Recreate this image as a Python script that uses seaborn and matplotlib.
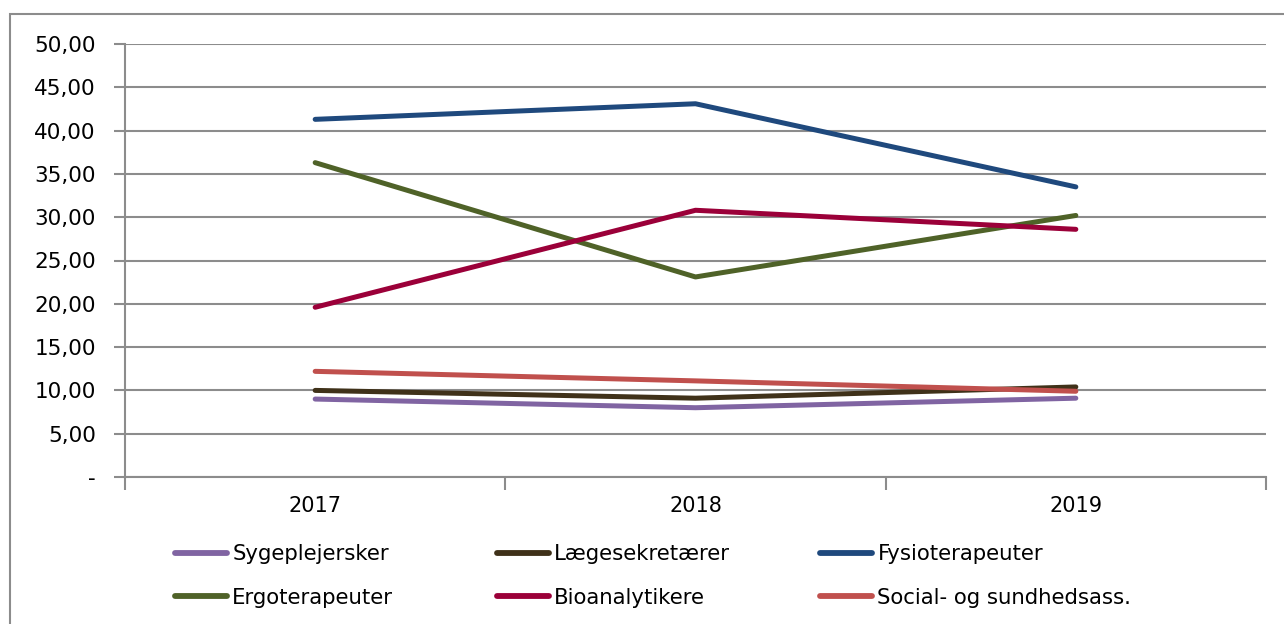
import pandas as pd
import matplotlib.pyplot as plt
import seaborn as sns
from matplotlib.ticker import FuncFormatter, FixedLocator
from matplotlib.patches import Rectangle

years = ["2017", "2018", "2019"]
sygeplejersker = [9.0, 8.0, 9.1]
laegesekretaerer = [10.0, 9.1, 10.4]
fysioterapeuter = [41.3, 43.1, 33.5]
ergoterapeuter = [36.3, 23.1, 30.2]
bioanalytikere = [19.6, 30.8, 28.6]
social_sundhed = [12.2, 11.1, 9.9]

series = {
    "Sygeplejersker": sygeplejersker,
    "Lægesekretærer": laegesekretaerer,
    "Fysioterapeuter": fysioterapeuter,
    "Ergoterapeuter": ergoterapeuter,
    "Bioanalytikere": bioanalytikere,
    "Social- og sundhedsass.": social_sundhed,
}
colors = ["#8064A2", "#3F3119", "#1F497D", "#4F6228", "#9B0039", "#C0504D"]

rows = []
for name, vals in series.items():
    for y, v in zip(years, vals):
        rows.append({"year": y, "value": v, "group": name})
data = pd.DataFrame(rows)

sns.set_style("white")
plt.rcParams['font.family'] = ['DejaVu Sans']
plt.rcParams['text.color'] = 'black'
plt.rcParams['xtick.color'] = 'black'
plt.rcParams['ytick.color'] = 'black'

fig = plt.figure(figsize=(12.84, 6.24), dpi=100)
ax = fig.add_axes([125 / 1284, 1 - 477 / 624, (1266 - 125) / 1284, (477 - 44) / 624])

sns.lineplot(data=data, x="year", y="value", hue="group", palette=colors,
             linewidth=3.6, ax=ax, legend=True)
for ln in ax.get_lines():
    ln.set_solid_capstyle("round")

ax.set_xlim(-0.5, 2.5)
ax.set_ylim(0, 50)
ax.set_yticks([i * 5 for i in range(11)])
ax.yaxis.set_major_formatter(FuncFormatter(
    lambda v, p: "-" if v == 0 else f"{v:.2f}".replace(".", ",")))
ax.grid(axis="y", color="#8C8C8C", linewidth=1.5)
ax.set_axisbelow(True)
ax.set_xlabel("")
ax.set_ylabel("")

ax.xaxis.set_minor_locator(FixedLocator([-0.5, 0.5, 1.5, 2.5]))
ax.tick_params(axis="x", which="major", bottom=True, length=0, pad=14,
               labelsize=15, labelcolor="black")
ax.tick_params(axis="x", which="minor", bottom=True, length=9, width=1.5,
               color="#8C8C8C")
ax.tick_params(axis="y", left=True, length=8, width=1.5, color="#8C8C8C",
               pad=13, labelsize=15.5, labelcolor="black")

for side in ["top", "right"]:
    ax.spines[side].set_visible(False)
for side in ["left", "bottom"]:
    ax.spines[side].set_color("#8C8C8C")
    ax.spines[side].set_linewidth(1.5)

handles, labels = ax.get_legend_handles_labels()
ax.get_legend().remove()
for h in handles:
    h.set_linewidth(4.2)
    h.set_solid_capstyle("round")

# one legend per column, as in the original layout
col_x = [175, 497, 820]
for c in range(3):
    idx = [c, c + 3]
    fig.legend([handles[i] for i in idx], [labels[i] for i in idx],
               loc="upper left", bbox_to_anchor=(col_x[c] / 1284, 1 - 544 / 624),
               frameon=False, fontsize=15.3, handlelength=2.45, handletextpad=0.25,
               labelspacing=1.12, borderpad=0, borderaxespad=0)

fig.patches.append(Rectangle((10 / 1284, -0.1), 1.2, 1 - 14 / 624 + 0.1,
                             transform=fig.transFigure, fill=False,
                             edgecolor="#8C8C8C", linewidth=1.5))

fig.savefig("out.png", dpi=100)
